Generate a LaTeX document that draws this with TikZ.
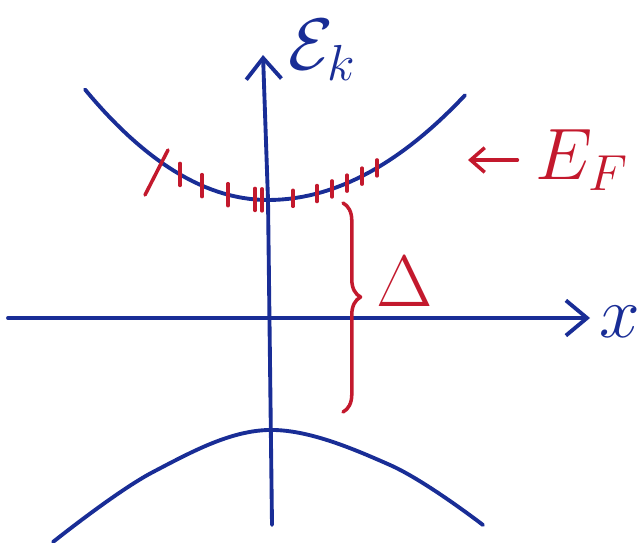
\documentclass[tikz,border=0pt]{standalone}
\usetikzlibrary{arrows.meta,decorations.pathreplacing}
\definecolor{ink}{RGB}{25,45,150}
\definecolor{redink}{RGB}{195,25,45}
\begin{document}
\begin{tikzpicture}[x=0.01cm,y=-0.01cm,line cap=round,line join=round,
  band/.style={ink,line width=1.1pt},
  axis/.style={ink,line width=1.1pt,-{Straight Barb[length=6pt,width=10pt]}},
  fermi/.style={redink,line width=1pt},
  lbl/.style={inner sep=0pt,font=\fontsize{22}{24}\selectfont}]
\useasboundingbox (0,0) rectangle (643,543);
\def\al{33}\def\ar{27}
% axes
\draw[axis] (8,318) -- (590,318);
\draw[axis] (272,525) -- (268,200) -- (263,55);
\node[lbl,ink,anchor=west] (ek) at (288,50) {$\mathcal{E}_k$};
\node[lbl,ink] (xlab) at (620,322) {$x$};
% bands
\draw[band] plot[smooth,tension=0.6] coordinates{(53,542)(153,472)(268,430)(390,465)(483,525)};
\draw[band] plot[domain=85:268,samples=30] (\x,{200-\al*((\x-268)/100)^2}) -- plot[domain=268:465,samples=30] (\x,{200-\ar*((\x-268)/100)^2});
% filled states up to E_F
\foreach \x in {180,202,228,255,262}{
  \pgfmathsetmacro\y{200-\al*((\x-268)/100)^2}
  \draw[fermi] (\x,\y-11) -- (\x,\y+11);}
\foreach \x in {293,317,332,347,362,377}{
  \pgfmathsetmacro\y{200-\ar*((\x-268)/100)^2}
  \draw[fermi] (\x,\y-8) -- (\x,\y+8);}
\draw[fermi] (145,195) -- (168,150);
\node[lbl,redink,anchor=west] (ef) at (535,160) {$E_F$};
\coordinate (efend) at (468,160);
\draw[fermi,-{Straight Barb[length=4pt,width=7pt]}] ([xshift=-5pt]ef.west) -- (efend);
% gap
\draw[fermi,decorate,decoration={brace,amplitude=5pt,aspect=0.45}] (343,203) -- (343,412);
\node[lbl,redink] (gap) at (405,282) {$\Delta$};
\end{tikzpicture}
\end{document}
